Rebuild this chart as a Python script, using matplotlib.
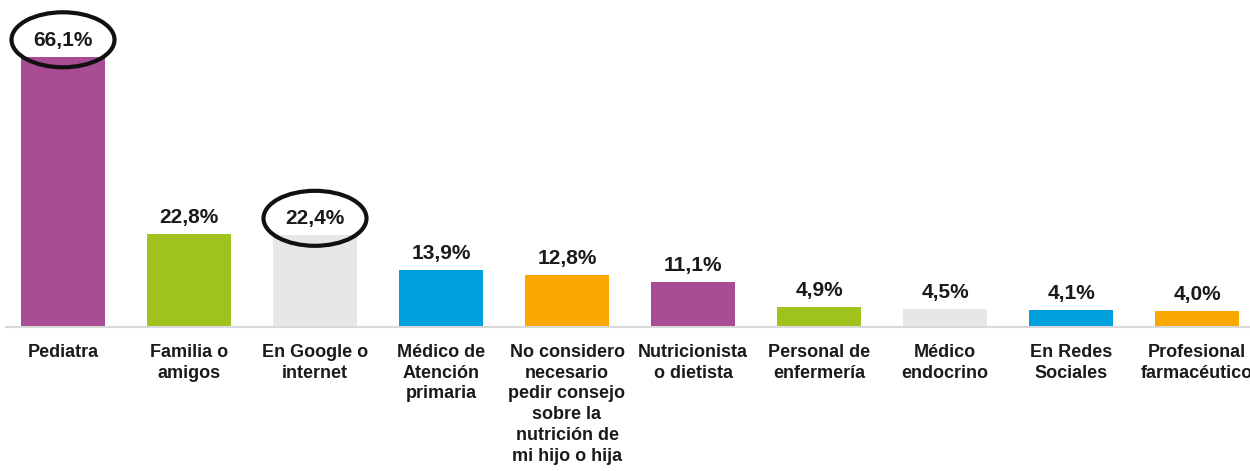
import matplotlib
matplotlib.use("Agg")
import matplotlib.pyplot as plt
from matplotlib.patches import Ellipse

categories = [
    "Pediatra",
    "Familia o\namigos",
    "En Google o\ninternet",
    "Médico de\nAtención\nprimaria",
    "No considero\nnecesario\npedir consejo\nsobre la\nnutrición de\nmi hijo o hija",
    "Nutricionista\no dietista",
    "Personal de\nenfermería",
    "Médico\nendocrino",
    "En Redes\nSociales",
    "Profesional\nfarmacéutico",
]
values = [66.1, 22.8, 22.4, 13.9, 12.8, 11.1, 4.9, 4.5, 4.1, 4.0]
value_labels = ["66,1%", "22,8%", "22,4%", "13,9%", "12,8%", "11,1%", "4,9%", "4,5%", "4,1%", "4,0%"]
highlighted = [0, 2]

colors = ["#A84C96", "#A0C21C", "#E6E7E8", "#00A0DC", "#F9A800",
          "#A84C96", "#A0C21C", "#E6E7E8", "#00A0DC", "#F9A800"]

plt.rcParams['font.family'] = ['Liberation Sans', 'DejaVu Sans']

fig = plt.figure(figsize=(12.5, 4.71), dpi=100)
ax = fig.add_axes([0.0, 144 / 471, 1.0, 286 / 471])

x = list(range(len(categories)))
ax.bar(x, values, width=0.66, color=colors, zorder=2)

ax.set_xlim(-0.5, (1250 - 63) / 126)
ax.set_ylim(0, 70)

for s in ["top", "right", "left"]:
    ax.spines[s].set_visible(False)
ax.spines["bottom"].set_color("#D9D9D9")
ax.spines["bottom"].set_linewidth(1.5)
ax.spines["bottom"].set_bounds(-0.45, (1250 - 63) / 126)

ax.set_yticks([])
ax.set_xticks(x)
ax.set_xticklabels(categories, fontsize=13, fontweight="bold", color="#1a1a1a",
                   linespacing=1.3, va="top", multialignment="center")
ax.tick_params(axis="x", length=0, pad=12)

for i, (v, lab) in enumerate(zip(values, value_labels)):
    ax.annotate(lab, (i, v), xytext=(0, 8), textcoords="offset points",
                ha="center", va="baseline", fontsize=15, fontweight="bold",
                color="#1a1a1a", annotation_clip=False)

for i in highlighted:
    e = Ellipse((i, values[i] + 4.2), width=103 / 126, height=55 / (286 / 70),
                fill=False, edgecolor="#111111", linewidth=3, clip_on=False, zorder=3)
    ax.add_patch(e)

fig.savefig("out.png", dpi=100)
